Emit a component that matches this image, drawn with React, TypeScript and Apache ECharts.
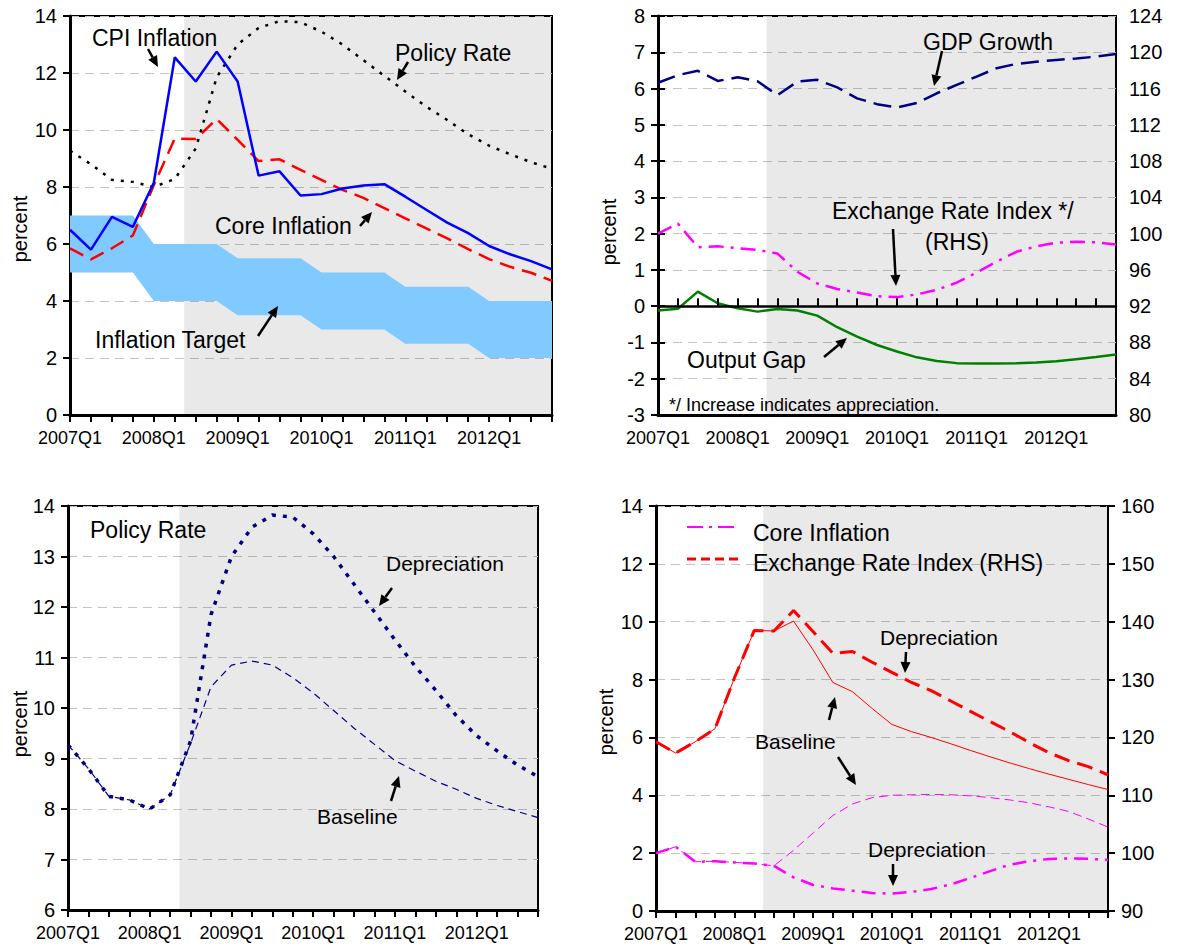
import React, { useEffect, useRef } from 'react';
import * as echarts from 'echarts';

const FONT = '"Liberation Sans", Arial, Helvetica, sans-serif';

// ---------- data ----------
const quarterTickLabels = ['2007Q1', '2008Q1', '2009Q1', '2010Q1', '2011Q1', '2012Q1'];

// Panel 1 (percent)
const cpiInflation = [6.5, 5.8, 6.95, 6.6, 8.15, 12.55, 11.7, 12.75, 11.7, 8.4, 8.55, 7.7, 7.75, 7.95, 8.05, 8.1, 7.66, 7.2, 6.75, 6.38, 5.93, 5.64, 5.4, 5.11];
const coreInflation = [5.85, 5.46, 5.85, 6.3, 8.07, 9.7, 9.68, 10.39, 9.65, 8.91, 8.97, 8.6, 8.25, 7.9, 7.62, 7.26, 6.9, 6.55, 6.2, 5.82, 5.47, 5.2, 4.99, 4.71];
const policyRate = [9.27, 8.8, 8.25, 8.18, 8.0, 8.28, 9.35, 11.85, 13.0, 13.58, 13.82, 13.78, 13.45, 13.0, 12.45, 11.9, 11.35, 10.82, 10.35, 9.85, 9.45, 9.15, 8.87, 8.64];
const targetLower = [5, 5, 5, 5, 4, 4, 4, 4, 3.5, 3.5, 3.5, 3.5, 3, 3, 3, 3, 2.5, 2.5, 2.5, 2.5, 2, 2, 2, 2];
const targetUpper = [7, 7, 7, 7, 6, 6, 6, 6, 5.5, 5.5, 5.5, 5.5, 5, 5, 5, 5, 4.5, 4.5, 4.5, 4.5, 4, 4, 4, 4];

// Panel 2
const gdpGrowth = [6.16, 6.37, 6.49, 6.21, 6.31, 6.2, 5.82, 6.19, 6.24, 6.03, 5.73, 5.57, 5.48, 5.6, 5.87, 6.1, 6.33, 6.56, 6.68, 6.74, 6.79, 6.83, 6.88, 6.95];
const exchangeRateIndex = [100, 101.1, 98.5, 98.6, 98.4, 98.2, 97.8, 95.8, 94.5, 93.9, 93.5, 93.1, 93.0, 93.3, 93.8, 94.6, 95.7, 96.9, 98.0, 98.6, 99.0, 99.1, 99.05, 98.8];
const outputGap = [-0.12, -0.07, 0.4, 0.08, -0.06, -0.15, -0.08, -0.12, -0.26, -0.58, -0.84, -1.07, -1.25, -1.41, -1.51, -1.57, -1.58, -1.58, -1.57, -1.55, -1.52, -1.46, -1.4, -1.33];

// Panel 3
const policyRateBaseline = [9.27, 8.8, 8.25, 8.18, 8.0, 8.28, 9.3, 10.42, 10.85, 10.93, 10.85, 10.6, 10.3, 9.95, 9.6, 9.28, 8.96, 8.75, 8.55, 8.39, 8.21, 8.07, 7.95, 7.83];

// Panel 4
const coreInflationBaseline = [5.85, 5.46, 5.85, 6.3, 8.07, 9.7, 9.68, 10.02, 9.02, 7.9, 7.58, 7.0, 6.45, 6.2, 6.0, 5.78, 5.55, 5.33, 5.12, 4.92, 4.73, 4.55, 4.37, 4.2];
const exchangeRateBaseline = [100, 101.1, 98.5, 98.6, 98.4, 98.2, 97.8, 100.5, 103.5, 106.5, 108.5, 109.6, 110, 110.1, 110.15, 110.1, 109.9, 109.6, 109.2, 108.7, 108.0, 107.2, 105.9, 104.5];

const shadeStart = 5.45;
const lastIndex = 23;

// ---------- helpers ----------
const pts = (arr: number[]) => arr.map((v, i) => [i, v]);

const shadeArea = {
  silent: true,
  itemStyle: { color: 'rgba(0,0,0,0.085)' },
  data: [[{ xAxis: shadeStart }, { xAxis: lastIndex }]],
};

function xAxis(gridIndex: number, extra: any = {}) {
  return {
    type: 'value',
    gridIndex,
    min: 0,
    max: lastIndex,
    interval: 1,
    position: 'bottom',
    axisLine: { show: true, onZero: false, lineStyle: { color: '#000', width: 3 } },
    axisTick: { show: true, inside: false, length: 7, lineStyle: { color: '#000', width: 2 } },
    axisLabel: {
      show: true,
      color: '#000',
      fontSize: 18,
      fontFamily: FONT,
      margin: 14,
      showMaxLabel: true,
      formatter: (v: number) => {
        const r = Math.round(v);
        return r % 4 === 0 ? quarterTickLabels[r / 4] || '' : '';
      },
    },
    splitLine: { show: false },
    ...extra,
  };
}

function yAxis(gridIndex: number, min: number, max: number, interval: number, position: string, split: boolean) {
  return {
    type: 'value',
    gridIndex,
    min,
    max,
    interval,
    position,
    axisLine: { show: true, lineStyle: { color: '#000', width: position === 'left' ? 3 : 2 } },
    axisTick: { show: true, length: 7, lineStyle: { color: '#000', width: 2 } },
    axisLabel: { color: '#000', fontSize: 20, fontFamily: FONT, margin: 13 },
    splitLine: { show: split, lineStyle: { color: '#c4c4c4', width: 1, type: [9, 6] } },
  };
}

function line(name: string, data: number[], xi: number, yi: number, color: string, width: number, type: any, extra: any = {}) {
  return {
    name,
    type: 'line',
    xAxisIndex: xi,
    yAxisIndex: yi,
    data: pts(data),
    symbol: 'none',
    silent: true,
    z: 3,
    lineStyle: { color, width, type, cap: 'butt' },
    ...extra,
  };
}

function text(t: string, x: number, y: number, size = 23, extra: any = {}) {
  return {
    type: 'text',
    x,
    y,
    z: 20,
    style: { text: t, fill: '#000', fontSize: size, fontFamily: FONT, align: 'left', verticalAlign: 'middle' },
    ...extra,
  };
}

function vtext(t: string, x: number, y: number) {
  return {
    type: 'text',
    x,
    y,
    rotation: Math.PI / 2,
    z: 20,
    style: { text: t, fill: '#000', fontSize: 20, fontFamily: FONT, align: 'center', verticalAlign: 'middle' },
  };
}

function arrow(x1: number, y1: number, x2: number, y2: number) {
  const ang = Math.atan2(y2 - y1, x2 - x1);
  const L = 11;
  const W = 5;
  const bx = x2 - L * Math.cos(ang);
  const by = y2 - L * Math.sin(ang);
  const px = -Math.sin(ang);
  const py = Math.cos(ang);
  return [
    { type: 'line', z: 20, shape: { x1, y1, x2: bx, y2: by }, style: { stroke: '#000', lineWidth: 2.5 } },
    {
      type: 'polygon',
      z: 20,
      shape: { points: [[x2, y2], [bx + W * px, by + W * py], [bx - W * px, by - W * py]] },
      style: { fill: '#000' },
    },
  ];
}

function buildOption(): any {
  const grids = [
    { left: 70, top: 16, width: 482, height: 399 },
    { left: 658, top: 16, width: 458, height: 399 },
    { left: 68, top: 506, width: 470, height: 404 },
    { left: 656, top: 506, width: 452, height: 405 },
  ].map((g) => ({ ...g, show: true, borderColor: '#000', borderWidth: 2, backgroundColor: 'transparent', containLabel: false }));

  const xAxes = [
    xAxis(0),
    xAxis(1, { axisTick: { show: false } }),
    xAxis(1, {
      z: 5,
      axisLine: { show: true, onZero: true, onZeroAxisIndex: 1, lineStyle: { color: '#000', width: 2.5 } },
      axisTick: { show: true, inside: true, length: 8, lineStyle: { color: '#000', width: 2 } },
      axisLabel: { show: false },
    }),
    xAxis(2),
    xAxis(3),
  ];

  const yAxes = [
    yAxis(0, 0, 14, 2, 'left', true),
    yAxis(1, -3, 8, 1, 'left', true),
    yAxis(1, 80, 124, 4, 'right', false),
    yAxis(2, 6, 14, 1, 'left', true),
    yAxis(3, 0, 14, 2, 'left', true),
    yAxis(3, 90, 160, 10, 'right', false),
  ];

  const series: any[] = [
    // Panel 1: inflation target band (between lower and upper bounds)
    {
      name: 'Inflation Target',
      type: 'custom',
      xAxisIndex: 0,
      yAxisIndex: 0,
      silent: true,
      z: 2,
      data: targetUpper.map((u, i) => [i, targetLower[i], u]),
      encode: { x: 0, y: [1, 2] },
      renderItem: (params: any, api: any) => {
        if (params.dataIndex !== 0) return null;
        const top = targetUpper.map((u, i) => api.coord([i, u]));
        const bottom = targetLower.map((l, i) => api.coord([i, l])).reverse();
        return {
          type: 'polygon',
          shape: { points: top.concat(bottom) },
          style: { fill: '#80CAFF', stroke: null },
        };
      },
    },
    line('Policy Rate', policyRate, 0, 0, '#000000', 2.5, [3, 7], { markArea: shadeArea }),
    line('Core Inflation', coreInflation, 0, 0, '#FF0000', 2.5, [15, 8]),
    line('CPI Inflation', cpiInflation, 0, 0, '#0000FF', 2.5, 'solid'),

    // Panel 2
    line('GDP Growth', gdpGrowth, 1, 1, '#000080', 2.5, [18, 8], { markArea: shadeArea }),
    line('Exchange Rate Index', exchangeRateIndex, 1, 2, '#FF00FF', 2.5, [15, 7, 3, 7]),
    line('Output Gap', outputGap, 1, 1, '#008000', 2.5, 'solid'),

    // Panel 3
    line('Policy Rate Baseline', policyRateBaseline, 3, 3, '#000080', 1.2, [7, 5], { markArea: shadeArea }),
    line('Policy Rate Depreciation', policyRate, 3, 3, '#000080', 3.5, [4, 7]),

    // Panel 4
    line('Core Inflation Baseline', coreInflationBaseline, 4, 4, '#FF0000', 1, 'solid', { markArea: shadeArea }),
    line('Core Inflation Depreciation', coreInflation, 4, 4, '#FF0000', 3, [16, 8]),
    line('Exchange Rate Baseline', exchangeRateBaseline, 4, 5, '#FF00FF', 1, [9, 5]),
    line('Exchange Rate Depreciation', exchangeRateIndex, 4, 5, '#FF00FF', 2.5, [14, 7, 3, 7]),
  ];

  const graphic: any[] = [
    // y-axis names
    vtext('percent', 20, 229),
    vtext('percent', 609, 232),
    vtext('percent', 20, 724),
    vtext('percent', 606, 722),

    // Panel 1 annotations
    text('CPI Inflation', 92, 38),
    ...arrow(148, 49, 158, 67),
    text('Policy Rate', 395, 53),
    ...arrow(408, 62, 397, 80),
    text('Core Inflation', 215, 226),
    ...arrow(360, 226, 372, 212),
    text('Inflation Target', 95, 340),
    ...arrow(258, 336, 278, 306),

    // Panel 2 annotations
    text('GDP Growth', 923, 42),
    ...arrow(942, 51, 934, 86),
    text('Exchange Rate Index */', 832, 211),
    text('(RHS)', 925, 242),
    ...arrow(893, 229, 896, 286),
    text('Output Gap', 687, 360),
    ...arrow(824, 357, 847, 338),
    text('*/ Increase indicates appreciation.', 669, 405, 18),

    // Panel 3 annotations
    text('Policy Rate', 90, 530),
    text('Depreciation', 386, 563, 21),
    ...arrow(392, 588, 379, 606),
    text('Baseline', 317, 816, 21),
    ...arrow(391, 801, 399, 776),

    // Panel 4 legend
    { type: 'line', z: 20, shape: { x1: 687, y1: 527, x2: 740, y2: 527 }, style: { stroke: '#FF00FF', lineWidth: 2, lineDash: [16, 6, 3, 6] } },
    text('Core Inflation', 753, 533),
    { type: 'line', z: 20, shape: { x1: 687, y1: 559, x2: 740, y2: 559 }, style: { stroke: '#FF0000', lineWidth: 3, lineDash: [9, 5] } },
    text('Exchange Rate Index (RHS)', 753, 563),

    // Panel 4 annotations
    text('Depreciation', 880, 637, 21),
    ...arrow(906, 652, 905, 673),
    text('Baseline', 755, 741, 21),
    ...arrow(829, 720, 835, 697),
    ...arrow(838, 757, 856, 785),
    text('Depreciation', 868, 849, 21),
    ...arrow(893, 864, 893, 886),
  ];

  return {
    animation: false,
    backgroundColor: '#ffffff',
    textStyle: { fontFamily: FONT },
    grid: grids,
    xAxis: xAxes,
    yAxis: yAxes,
    series,
    graphic,
  };
}

export default function App() {
  const ref = useRef<HTMLDivElement>(null);
  useEffect(() => {
    if (!ref.current) return;
    const chart = echarts.init(ref.current, null, { renderer: 'svg' });
    chart.setOption(buildOption());
    return () => chart.dispose();
  }, []);
  return (
    <div
      ref={ref}
      style={{ position: 'absolute', left: 0, top: 0, width: 1178, height: 951, background: '#fff' }}
    />
  );
}
